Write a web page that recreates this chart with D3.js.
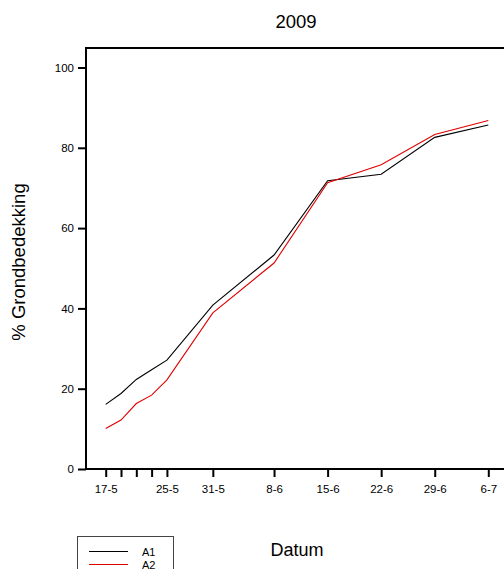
<!DOCTYPE html>
<html><head><meta charset="utf-8">
<script src="https://cdn.jsdelivr.net/npm/d3@7"></script>
<style>body{margin:0;background:#fff}svg{display:block}text{font-family:"Liberation Sans",Arial,sans-serif;fill:#000}</style>
</head><body><svg id="c" width="504" height="569"></svg>
<script>
const dates = ["2009-05-17","2009-05-19","2009-05-21","2009-05-23","2009-05-25","2009-05-31","2009-06-08","2009-06-15","2009-06-22","2009-06-29","2009-07-06"];
const seriesA1 = [16.1, 18.8, 22.3, 24.7, 27.1, 40.8, 53.3, 71.8, 73.4, 82.6, 85.7];
const seriesA2 = [10.1, 12.2, 16.3, 18.4, 22.2, 38.9, 51.3, 71.3, 75.8, 83.3, 86.8];
const tickDates = ["2009-05-17","2009-05-19","2009-05-21","2009-05-23","2009-05-25","2009-05-31","2009-06-08","2009-06-15","2009-06-22","2009-06-29","2009-07-06"];
const labelledTicks = ["2009-05-17","2009-05-25","2009-05-31","2009-06-08","2009-06-15","2009-06-22","2009-06-29","2009-07-06"];
const yTicks = [0,20,40,60,80,100];
const seriesNames = ["A1","A2"];
const seriesColors = ["#000000","#e00000"];

const parse = d3.utcParse("%Y-%m-%d");
const fmt = d3.utcFormat("%-d-%-m");
const svg = d3.select("#c");

const x = d3.scaleUtc().domain([parse(dates[0]), parse(dates[dates.length-1])]).range([105.7, 488.3]);
const y = d3.scaleLinear().domain([0,100]).range([469, 67.5]);

const axisLeftX = 86, topY = 48;

svg.append("path").attr("d", `M${axisLeftX},${y(0)}V${topY}H510`).attr("fill","none").attr("stroke","#000").attr("stroke-width",2);

const yAxis = d3.axisLeft(y).tickValues(yTicks).tickSize(8).tickPadding(4);
const gy = svg.append("g").attr("transform",`translate(${axisLeftX},0)`).call(yAxis);
gy.select(".domain").remove();
gy.selectAll(".tick line").attr("stroke-width",2);
gy.selectAll("text").style("font-size","11.5px").style("font-family","Liberation Sans, Arial, sans-serif");

const labelSet = new Set(labelledTicks);
const xAxis = d3.axisBottom(x).tickValues(tickDates.map(parse)).tickSize(8).tickPadding(8)
  .tickFormat(d => labelSet.has(d3.utcFormat("%Y-%m-%d")(d)) ? fmt(d) : "");
const gx = svg.append("g").attr("transform",`translate(0,${y(0)})`).call(xAxis);
gx.select(".domain").remove();
gx.selectAll(".tick line").attr("stroke-width",2);
gx.selectAll("text").style("font-size","11.5px").style("font-family","Liberation Sans, Arial, sans-serif");
svg.append("line").attr("x1",axisLeftX-1).attr("x2",510).attr("y1",y(0)).attr("y2",y(0)).attr("stroke","#000").attr("stroke-width",2);

const line = d3.line().x((d,i)=>x(parse(dates[i]))).y(d=>y(d));
[seriesA1, seriesA2].forEach((s,i)=>{
  svg.append("path").datum(s).attr("d", line).attr("fill","none")
    .attr("stroke", seriesColors[i]).attr("stroke-width",1.1);
});

svg.append("text").attr("x",296).attr("y",28).attr("text-anchor","middle").style("font-size","18.5px").text("2009");
svg.append("text").attr("x",297).attr("y",556).attr("text-anchor","middle").style("font-size","18px").text("Datum");
svg.append("text").attr("transform","translate(25,262) rotate(-90)").attr("text-anchor","middle").style("font-size","18.5px").text("% Grondbedekking");

const lg = svg.append("g");
lg.append("rect").attr("x",77.5).attr("y",536.5).attr("width",96).attr("height",60).attr("fill","#fff").attr("stroke","#444").attr("stroke-width",1);
seriesNames.forEach((n,i)=>{
  const ly = 551.5 + i*13;
  lg.append("line").attr("x1",89).attr("x2",128).attr("y1",ly).attr("y2",ly).attr("stroke",seriesColors[i]).attr("stroke-width",1);
  lg.append("text").attr("x",142).attr("y",ly+4).style("font-size","11px").text(n);
});
</script></body></html>
